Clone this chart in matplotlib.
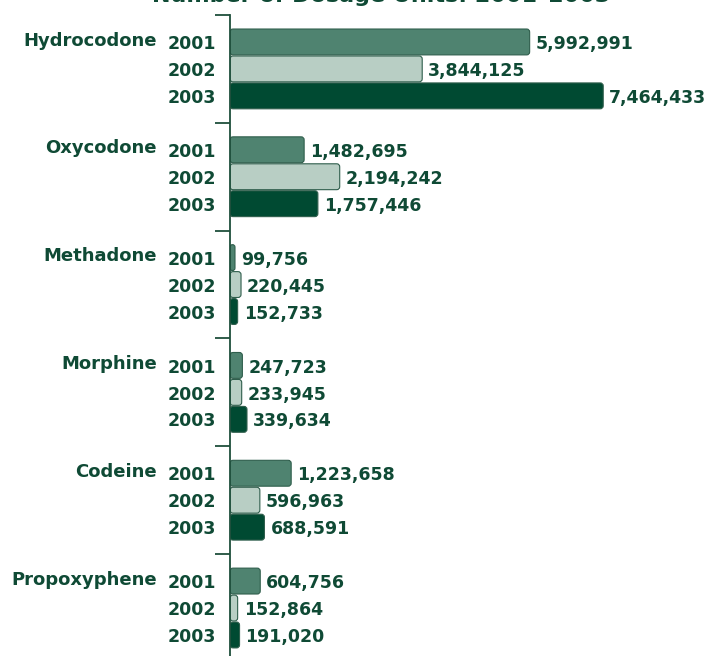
import matplotlib.pyplot as plt
from matplotlib.patches import FancyBboxPatch
import numpy as np

# Dosage units per drug, 2001-2003
drugs = ['Hydrocodone', 'Oxycodone', 'Methadone', 'Morphine', 'Codeine', 'Propoxyphene']
years = ['2001', '2002', '2003']
units_2001 = [5992991, 1482695, 99756, 247723, 1223658, 604756]
units_2002 = [3844125, 2194242, 220445, 233945, 596963, 152864]
units_2003 = [7464433, 1757446, 152733, 339634, 688591, 191020]

colors = ['#4f8370', '#b8cec4', '#004a32']
txt = '#0f4a35'
plt.rcParams['font.family'] = ['DejaVu Sans']

fig = plt.figure(figsize=(7.06, 6.56), dpi=100)
ax = fig.add_axes([230 / 706, 0, 476 / 706, 641 / 656])

xmax = 476 / 50 * 1e6  # 50 px per million
ax.set_xlim(0, xmax)
ax.set_ylim(22.78, -1.0)

# rounding for the bar corners (in pixels -> data)
px_x = xmax / 476
px_y = 23.78 / 641
aspect = px_y / px_x

for j, vals in enumerate([units_2001, units_2002, units_2003]):
    pos = np.arange(len(drugs)) * 4 + j
    bars = ax.barh(pos, vals, height=0.96, color=colors[j])
    for k, (b, v, p) in enumerate(zip(bars, vals, pos)):
        b.set_visible(False)
        x0, y0 = b.get_x(), b.get_y()
        w, h = b.get_width(), b.get_height()
        r = min(3 * px_x, w / 2)
        ax.add_patch(FancyBboxPatch((x0, y0), w, h,
                                    boxstyle=f'round,pad=0,rounding_size={r}',
                                    mutation_aspect=aspect,
                                    facecolor=colors[j], edgecolor='#2f5e4c',
                                    linewidth=0.8, zorder=2))
        ax.text(v + 6 * px_x, p + 0.08, f'{v:,}', va='center', ha='left',
                fontsize=12.5, fontweight='bold', color=txt)
        ax.text(-14 * px_x, p + 0.08, years[j], va='center', ha='right',
                fontsize=12.5, fontweight='bold', color=txt, clip_on=False)
        if j == 0:
            ax.text(-73 * px_x, p - 0.05, drugs[k], va='center',
                    ha='right', fontsize=13, fontweight='bold', color=txt,
                    clip_on=False)

for s in ['top', 'right', 'bottom']:
    ax.spines[s].set_visible(False)
ax.spines['left'].set_color('#1f4f3c')
ax.spines['left'].set_linewidth(1.3)
ax.set_xticks([])
ax.set_yticks([-1, 3, 7, 11, 15, 19])
ax.set_yticklabels([])
ax.tick_params(axis='y', length=11, width=1.3, color='#1f4f3c')

fig.text(0.54, 1 - 1.5 / 656, 'Number of Dosage Units: 2001–2003', ha='center',
         va='baseline', fontsize=16, fontweight='bold', color=txt)

fig.savefig('out.png', dpi=100)
